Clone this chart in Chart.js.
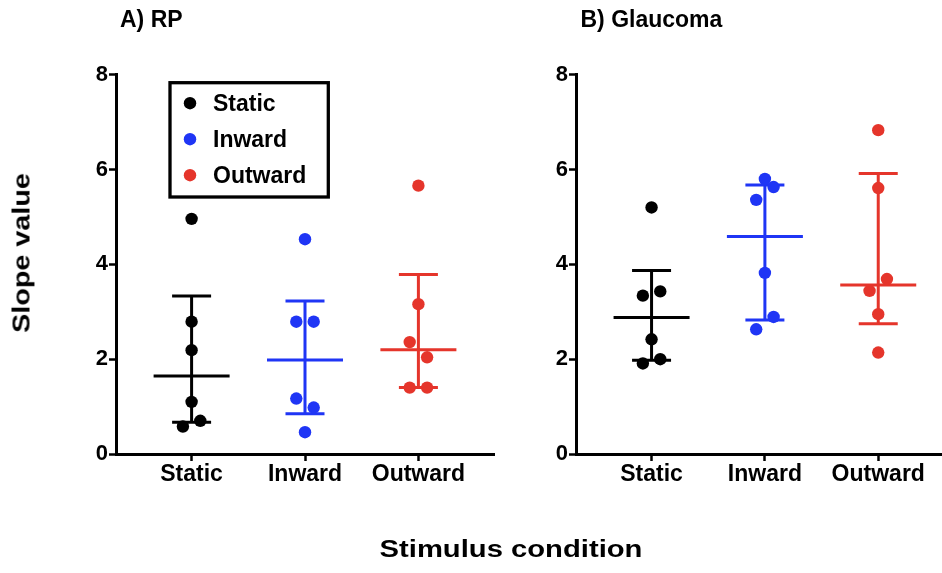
<!DOCTYPE html>
<html>
<head>
<meta charset="utf-8">
<script src="https://cdn.jsdelivr.net/npm/chart.js@4.4.1/dist/chart.umd.min.js"></script>
<style>
  html, body { margin: 0; padding: 0; background: #fff; width: 942px; height: 573px; overflow: hidden; }
  body { position: relative; font-family: "Liberation Sans", Arial, sans-serif; }
  canvas { position: absolute; top: 0; }
  #cRP { left: 0; }
  #cGL { left: 500px; }
  .txt { position: absolute; font-weight: bold; color: #000; white-space: nowrap; line-height: 1; }
  #tA { left: 120px; top: 19px; font-size: 23px; transform: translate(0, -50%); }
  #tB { left: 580.5px; top: 19px; font-size: 23px; transform: translate(0, -50%); }
  #tY { left: 22px; top: 253px; font-size: 23px; transform: translate(-50%, -50%) rotate(-90deg) scaleX(1.25); }
  #tX { left: 510.5px; top: 549px; font-size: 23px; transform: translate(-50%, -50%) scaleX(1.27); }
</style>
</head>
<body>
<canvas id="cRP" width="505" height="573"></canvas>
<canvas id="cGL" width="460" height="573"></canvas>
<div class="txt" id="tA">A) RP</div>
<div class="txt" id="tB">B) Glaucoma</div>
<div class="txt" id="tY">Slope value</div>
<div class="txt" id="tX">Stimulus condition</div>
<script>
// ---------- data ----------
const categories = ['Static', 'Inward', 'Outward'];
const yTicks = [0, 2, 4, 6, 8];

const rpStatic  = [4.96, 2.79, 2.19, 1.10, 0.58, 0.70];
const rpInward  = [4.53, 2.79, 2.79, 1.17, 0.98, 0.46];
const rpOutward = [5.66, 3.16, 2.36, 2.04, 1.40, 1.40];

const glStatic  = [5.20, 3.34, 3.43, 2.42, 1.91, 2.00];
const glInward  = [5.80, 5.36, 5.63, 3.82, 2.63, 2.89];
const glOutward = [6.83, 5.61, 3.44, 3.69, 2.95, 2.14];

// ---------- style ----------
const COLORS = ['#000000', '#1f35f5', '#e5352b'];
const FONT = '"Liberation Sans", Arial, sans-serif';
const JITTER = 0.0767;       // horizontal spread of overlapping points (x units)
const OVERLAP = 0.36;        // values closer than this (y units) are spread sideways

// quartiles as GraphPad computes them: position p*(n+1)
function quantile(vals, p) {
  const s = [...vals].sort((a, b) => a - b);
  const pos = p * (s.length + 1) - 1;
  const lo = Math.max(0, Math.min(s.length - 1, Math.floor(pos)));
  const hi = Math.min(s.length - 1, lo + 1);
  return s[lo] + (pos - lo) * (s[hi] - s[lo]);
}

// spread overlapping points sideways (scatter-dot style)
function spread(vals) {
  const idx = vals.map((v, i) => i).sort((a, b) => vals[a] - vals[b]);
  const slots = new Array(vals.length).fill(0);
  let cluster = [idx[0]];
  const flush = (c) => {
    const ordered = [...c].sort((a, b) => a - b);
    const pattern = ordered.length === 1 ? [0] : ordered.length === 2 ? [-1, 1] : [0, -1, 1, -2, 2, -3, 3];
    ordered.forEach((k, j) => { slots[k] = pattern[j]; });
  };
  for (let j = 1; j < idx.length; j++) {
    if (vals[idx[j]] - vals[idx[j - 1]] < OVERLAP) cluster.push(idx[j]);
    else { flush(cluster); cluster = [idx[j]]; }
  }
  flush(cluster);
  return slots;
}

function makeDatasets(groups) {
  return groups.map((vals, g) => {
    const slots = spread(vals);
    return {
      label: categories[g],
      values: vals,
      group: g + 1,
      data: vals.map((v, i) => ({ x: g + 1 + slots[i] * JITTER, y: v })),
      backgroundColor: COLORS[g],
      borderColor: COLORS[g],
      borderWidth: 0,
      pointRadius: 6.2,
      pointHoverRadius: 6.2,
      showLine: false
    };
  });
}

// median + interquartile range drawn through the chart's scales
const medianIqrPlugin = {
  id: 'medianIqr',
  beforeDatasetsDraw(chart) {
    const { ctx, scales: { x, y } } = chart;
    ctx.save();
    chart.data.datasets.forEach(ds => {
      const med = quantile(ds.values, 0.5);
      const q1 = quantile(ds.values, 0.25);
      const q3 = quantile(ds.values, 0.75);
      const px = x.getPixelForValue(ds.group);
      const pm = y.getPixelForValue(med), p1 = y.getPixelForValue(q1), p3 = y.getPixelForValue(q3);
      ctx.strokeStyle = ds.borderColor;
      ctx.lineWidth = 3;
      ctx.lineCap = 'butt';
      ctx.beginPath();
      ctx.moveTo(px, p1); ctx.lineTo(px, p3);
      ctx.moveTo(px - 38, pm); ctx.lineTo(px + 38, pm);
      ctx.moveTo(px - 19.5, p1); ctx.lineTo(px + 19.5, p1);
      ctx.moveTo(px - 19.5, p3); ctx.lineTo(px + 19.5, p3);
      ctx.stroke();
    });
    ctx.restore();
  }
};

// boxed legend inside the plot area
const boxLegendPlugin = {
  id: 'boxLegend',
  afterDraw(chart, args, opts) {
    if (!opts || !opts.show) return;
    const { ctx, chartArea } = chart;
    const bx = chartArea.left + 54, by = chartArea.top + 8;
    ctx.save();
    ctx.strokeStyle = '#000';
    ctx.lineWidth = 3.3;
    ctx.strokeRect(bx, by, 158.3, 114.3);
    ctx.font = 'bold 23px ' + FONT;
    ctx.textBaseline = 'alphabetic';
    ctx.textAlign = 'left';
    chart.data.datasets.forEach((ds, i) => {
      const ry = by + 20.5 + i * 36;
      ctx.fillStyle = ds.backgroundColor;
      ctx.beginPath();
      ctx.arc(bx + 20, ry, 6.2, 0, Math.PI * 2);
      ctx.fill();
      ctx.fillStyle = '#000';
      ctx.fillText(ds.label, bx + 43, ry + 8.2);
    });
    ctx.restore();
  }
};

function makeChart(id, groups, yWidth, padRight, withLegend) {
  return new Chart(document.getElementById(id), {
    type: 'scatter',
    data: { datasets: makeDatasets(groups) },
    plugins: [medianIqrPlugin, boxLegendPlugin],
    options: {
      responsive: false,
      animation: false,
      events: [],
      layout: { padding: { left: 0, right: padRight, top: 74.7, bottom: 0 } },
      plugins: {
        legend: { display: false },
        tooltip: { enabled: false },
        title: { display: false },
        boxLegend: { show: withLegend }
      },
      scales: {
        x: {
          type: 'linear',
          min: 1 / 3,
          max: 11 / 3,
          afterBuildTicks: s => { s.ticks = categories.map((c, i) => ({ value: i + 1 })); },
          afterFit: s => { s.height = 119; },
          ticks: {
            autoSkip: false,
            maxRotation: 0,
            padding: 0,
            color: '#000',
            font: { family: FONT, weight: 'bold', size: 23 },
            callback: v => categories[Math.round(v) - 1]
          },
          grid: { display: true, drawOnChartArea: false, drawTicks: true, tickLength: 7, tickWidth: 2.5, tickColor: '#000', color: '#000' },
          border: { display: true, color: '#000', width: 3 }
        },
        y: {
          min: yTicks[0],
          max: yTicks[yTicks.length - 1],
          afterBuildTicks: s => { s.ticks = yTicks.map(v => ({ value: v })); },
          afterFit: s => { s.width = yWidth; },
          ticks: {
            padding: 1,
            color: '#000',
            font: { family: FONT, weight: 'bold', size: 22 }
          },
          grid: { display: true, drawOnChartArea: false, drawTicks: true, tickLength: 7, tickWidth: 2.5, tickColor: '#000', color: '#000' },
          border: { display: true, color: '#000', width: 3 }
        }
      }
    }
  });
}

makeChart('cRP', [rpStatic, rpInward, rpOutward], 116, 11, true);
makeChart('cGL', [glStatic, glInward, glOutward], 76, 6, false);
</script>
</body>
</html>
